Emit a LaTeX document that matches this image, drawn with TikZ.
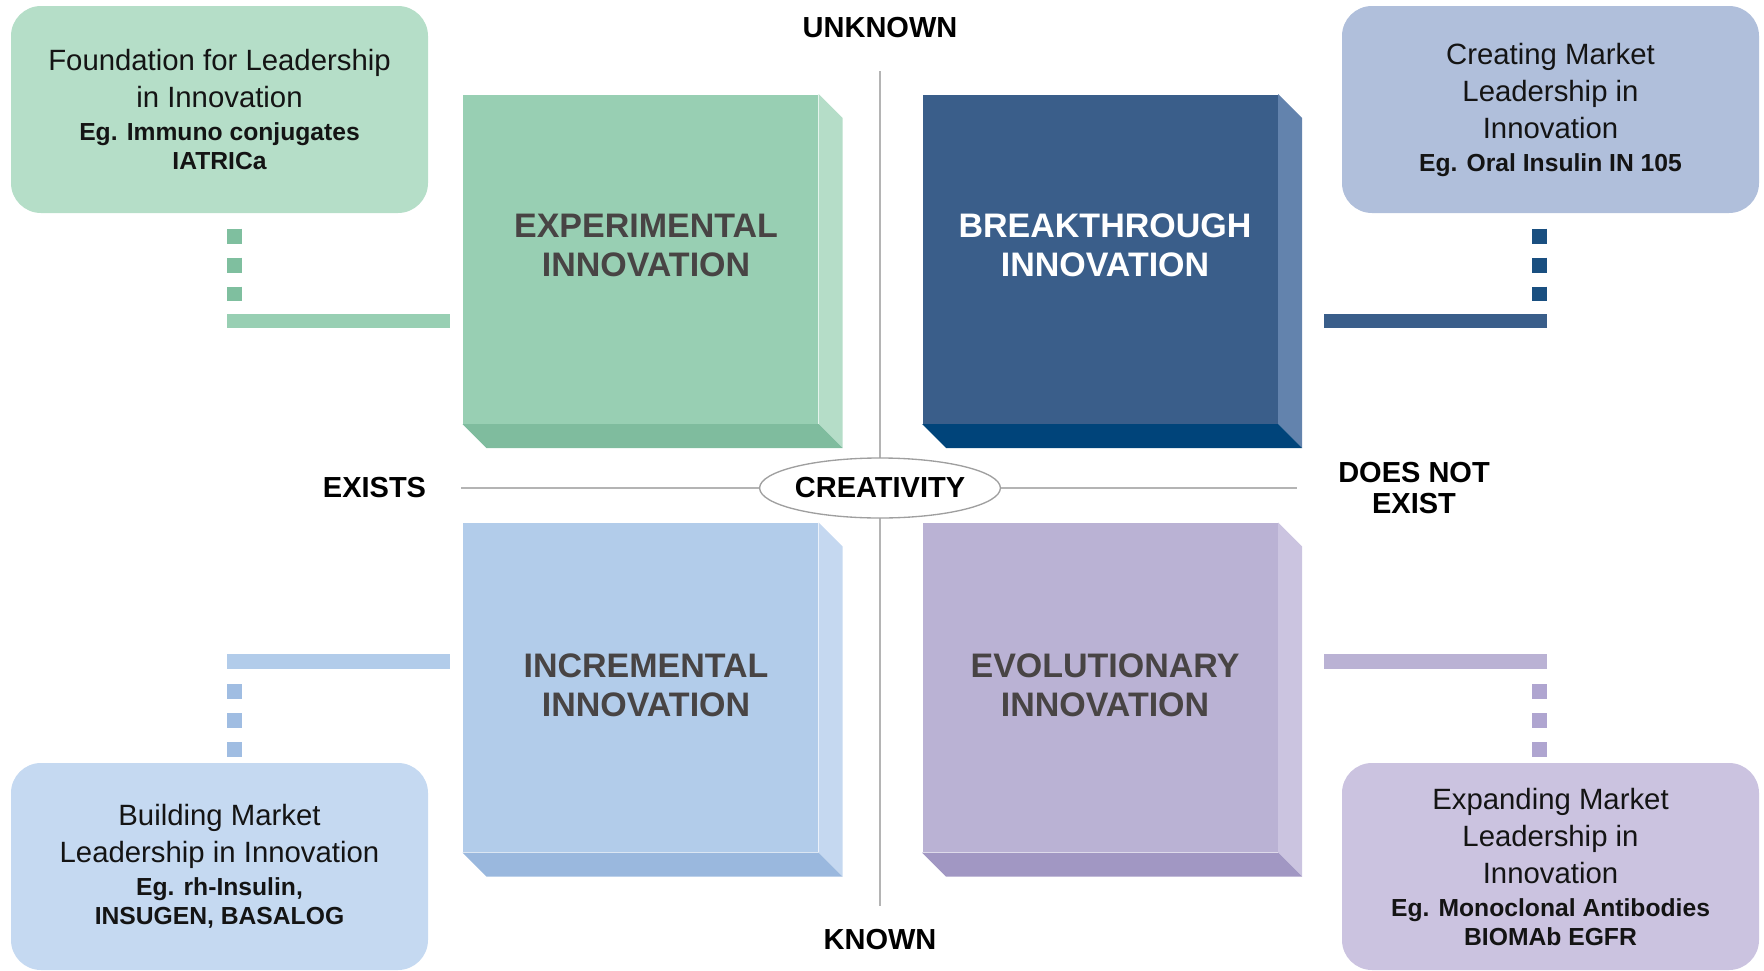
\documentclass[tikz,border=0pt]{standalone}
\usepackage{fontspec}
\setmainfont{Liberation Sans}
\usetikzlibrary{shapes.geometric}

\definecolor{gnote}{HTML}{B5DEC8}
\definecolor{gfront}{HTML}{98CFB3}
\definecolor{gside}{HTML}{B5DDC8}
\definecolor{gbottom}{HTML}{7FBC9E}
\definecolor{gdot}{HTML}{7FBF9F}
\definecolor{bnote}{HTML}{B0BFDB}
\definecolor{bfront}{HTML}{3A5E8A}
\definecolor{bside}{HTML}{6383AD}
\definecolor{bbottom}{HTML}{00447A}
\definecolor{bdot}{HTML}{1A4F80}
\definecolor{lnote}{HTML}{C5D9F1}
\definecolor{lfront}{HTML}{B2CCEA}
\definecolor{lside}{HTML}{C5D8F0}
\definecolor{lbottom}{HTML}{9AB8DE}
\definecolor{ldot}{HTML}{A0BDE2}
\definecolor{pnote}{HTML}{CBC3E0}
\definecolor{pfront}{HTML}{BAB2D4}
\definecolor{pside}{HTML}{CBC4E0}
\definecolor{pbottom}{HTML}{A197C3}
\definecolor{pdot}{HTML}{AFA5D0}
\definecolor{boxgray}{HTML}{484444}
\definecolor{axisgray}{HTML}{B4B4B4}

\newcommand{\egfont}{\bfseries\fontsize{18.5}{21.75}\selectfont}

\tikzset{every picture/.style={line width=0.75pt}}
\tikzset{
  note/.style={rounded corners=22.5pt, minimum width=312.75pt, minimum height=155.25pt,
    inner sep=0pt, align=center, text=black!92, font=\fontsize{22}{27.75}\selectfont},
  face/.style={minimum width=266.25pt, minimum height=246.75pt, inner sep=0pt},
  boxtext/.style={align=center, text=boxgray, font=\bfseries\fontsize{25.5}{29.25}\selectfont},
  axislabel/.style={align=center, text=black, font=\bfseries\fontsize{21.75}{24.75}\selectfont},
  sqdots/.style={line width=11.25pt, dash pattern=on 11.25pt off 10.5pt},
  bar/.style={line width=10.75pt},
  axis/.style={draw=axisgray, line width=1.1pt},
}

\begin{document}
\begin{tikzpicture}[x=0.75pt,y=0.75pt,yscale=-1,xscale=1]
\useasboundingbox (0,0) rectangle (1764,971);

%Straight Lines (axes)
\coordinate (top) at (880,71);
\coordinate (bot) at (880,906);
\coordinate (lft) at (461,488);
\coordinate (rgt) at (1297,488);
\draw [axis] (top) -- (bot);
\draw [axis] (lft) -- (rgt);

%Shape: Box fronts
\node [face, fill=gfront] (exp) at (640.5,259) {};
\node [face, fill=bfront] (brk) at (1100,259) {};
\node [face, fill=lfront] (inc) at (640.5,687.5) {};
\node [face, fill=pfront] (evo) at (1100,687.5) {};

%Shape: Box sides and bottoms
\fill [gside] (exp.north east) -- ++(24,24) -- ([shift={(24,24)}]exp.south east) -- (exp.south east) -- cycle;
\fill [gbottom] (exp.south west) -- (exp.south east) -- ++(24,24) -- ([shift={(24,24)}]exp.south west) -- cycle;
\fill [bside] (brk.north east) -- ++(24,24) -- ([shift={(24,24)}]brk.south east) -- (brk.south east) -- cycle;
\fill [bbottom] (brk.south west) -- (brk.south east) -- ++(24,24) -- ([shift={(24,24)}]brk.south west) -- cycle;
\fill [lside] (inc.north east) -- ++(24,24) -- ([shift={(24,24)}]inc.south east) -- (inc.south east) -- cycle;
\fill [lbottom] (inc.south west) -- (inc.south east) -- ++(24,24) -- ([shift={(24,24)}]inc.south west) -- cycle;
\fill [pside] (evo.north east) -- ++(24,24) -- ([shift={(24,24)}]evo.south east) -- (evo.south east) -- cycle;
\fill [pbottom] (evo.south west) -- (evo.south east) -- ++(24,24) -- ([shift={(24,24)}]evo.south west) -- cycle;

% Text Node
\node [boxtext] (explbl) at (646,245) {EXPERIMENTAL\\INNOVATION};
% Text Node
\node [boxtext, text=white] (brklbl) at (1105,245) {BREAKTHROUGH\\INNOVATION};
% Text Node
\node [boxtext] (inclbl) at (646,685) {INCREMENTAL\\INNOVATION};
% Text Node
\node [boxtext] (evolbl) at (1105,685) {EVOLUTIONARY\\INNOVATION};

%Shape: Rounded Rect (notes)
\node [note, fill=gnote] (expnote) at (219.5,109.5) {Foundation for Leadership\\in Innovation\\[-3pt]{\egfont Eg. Immuno conjugates}\\[-6pt]{\egfont IATRICa}};
\node [note, fill=bnote] (brknote) at (1550.5,109.5) {Creating Market\\Leadership in\\Innovation\\[-3pt]{\egfont Eg. Oral Insulin IN 105}};
\node [note, fill=lnote] (incnote) at (219.5,866.5) {Building Market\\Leadership in Innovation\\[-3pt]{\egfont Eg. rh-Insulin,}\\[-6pt]{\egfont INSUGEN, BASALOG}};
\node [note, fill=pnote] (evonote) at (1550.5,866.5) {Expanding Market\\Leadership in\\Innovation\\[-3pt]{\egfont Eg. Monoclonal Antibodies}\\[-6pt]{\egfont BIOMAb EGFR}};

%Straight Lines (links)
\coordinate (expturn) at (234.5,321);
\coordinate (brkturn) at (1539.5,321);
\coordinate (incturn) at (234.5,661.5);
\coordinate (evoturn) at (1539.5,661.5);
\draw [sqdots, gdot, shorten <=11.25pt, shorten >=15pt] (expnote.south -| expturn) -- (expturn);
\draw [bar, gfront, shorten >=9.75pt] ([xshift=-5.625pt]expturn) -- (expturn -| exp.west);
\draw [sqdots, bdot, shorten <=11.25pt, shorten >=15pt] (brknote.south -| brkturn) -- (brkturn);
\draw [bar, bfront, shorten >=34.5pt] ([xshift=5.625pt]brkturn) -- (brkturn -| brk.east);
\draw [sqdots, ldot, shorten <=16.875pt, shorten >=4.5pt] (incturn) -- (incnote.north -| incturn);
\draw [bar, lfront, shorten >=9.75pt] ([xshift=-5.625pt]incturn) -- (incturn -| inc.west);
\draw [sqdots, pdot, shorten <=16.875pt, shorten >=4.5pt] (evoturn) -- (evonote.north -| evoturn);
\draw [bar, pfront, shorten >=34.5pt] ([xshift=5.625pt]evoturn) -- (evoturn -| evo.east);

%Shape: Ellipse
\node [ellipse, draw=gray!75, fill=white, line width=1pt, minimum width=180pt, minimum height=45pt, inner sep=0pt, axislabel] (crea) at (880,488) {CREATIVITY};

% Text Node
\node [axislabel] (unknown) at (880,28) {UNKNOWN};
% Text Node
\node [axislabel] (known) at (880,940) {KNOWN};
% Text Node
\node [axislabel] (exists) at (374.5,488) {EXISTS};
% Text Node
\node [axislabel] (notexist) at (1414,488) {DOES NOT\\[-1pt]EXIST};

\end{tikzpicture}
\end{document}
